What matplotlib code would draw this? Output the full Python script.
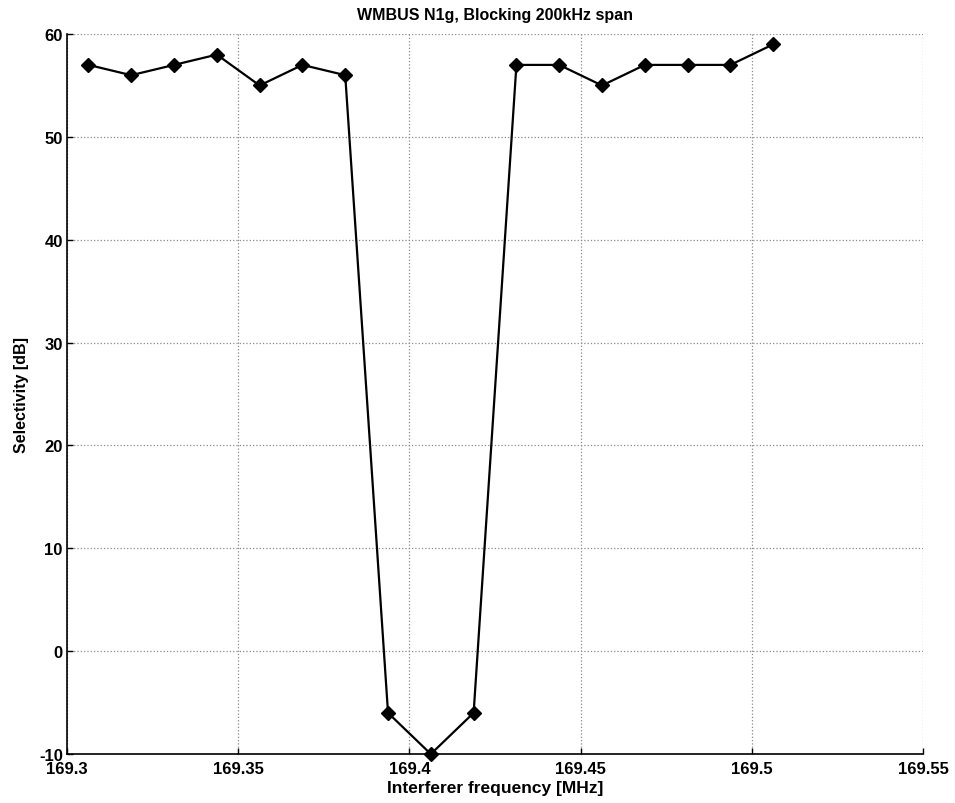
import matplotlib
matplotlib.use("Agg")
import matplotlib.pyplot as plt
import numpy as np

plt.rcParams['font.family'] = ['Liberation Sans', 'DejaVu Sans']
plt.rcParams['font.weight'] = 'bold'
plt.rcParams['axes.unicode_minus'] = False

# interferer frequency [MHz] and measured selectivity [dB]
freq = [169.30625, 169.31875, 169.33125, 169.34375, 169.35625, 169.36875,
        169.38125, 169.39375, 169.40625, 169.41875, 169.43125, 169.44375,
        169.45625, 169.46875, 169.48125, 169.49375, 169.50625]
selectivity = [57, 56, 57, 58, 55, 57, 56, -6, -10, -6, 57, 57, 55, 57, 57, 57, 59]

xticks = [169.3, 169.35, 169.4, 169.45, 169.5, 169.55]
xticklabels = ['169.3', '169.35', '169.4', '169.45', '169.5', '169.55']
yticks = [-10, 0, 10, 20, 30, 40, 50, 60]

fig = plt.figure(figsize=(9.55, 8.04), dpi=100)
ax = fig.add_axes([0.0702, 0.0609, 0.8963, 0.8955])

ax.plot(freq, selectivity, color='black', linewidth=1.6, marker='D',
        markersize=7, markerfacecolor='black', markeredgecolor='black',
        clip_on=False, zorder=3)

ax.set_xlim(169.3, 169.55)
ax.set_ylim(-10, 60)
ax.set_xticks(xticks)
ax.set_xticklabels(xticklabels)
ax.set_yticks(yticks)

ax.grid(True, linestyle=':', color='#8a8a8a', linewidth=0.9)
ax.spines['top'].set_visible(False)
ax.spines['right'].set_visible(False)
ax.spines['left'].set_linewidth(1.2)
ax.spines['bottom'].set_linewidth(1.2)
ax.tick_params(axis='x', direction='in', length=4, width=1, labelsize=12, pad=5)
ax.tick_params(axis='y', direction='in', length=4, width=1, labelsize=12, pad=3)
for lbl in ax.get_xticklabels() + ax.get_yticklabels():
    lbl.set_fontweight('bold')

ax.set_title("WMBUS N1g, Blocking 200kHz span", fontsize=11.5,
             fontweight='bold', pad=10.5)
ax.set_xlabel("Interferer frequency [MHz]", fontsize=12.5,
              fontweight='bold', labelpad=3)
ax.set_ylabel("Selectivity [dB]", fontsize=11.5, fontweight='bold', labelpad=7)

fig.savefig("out.png", dpi=100)
